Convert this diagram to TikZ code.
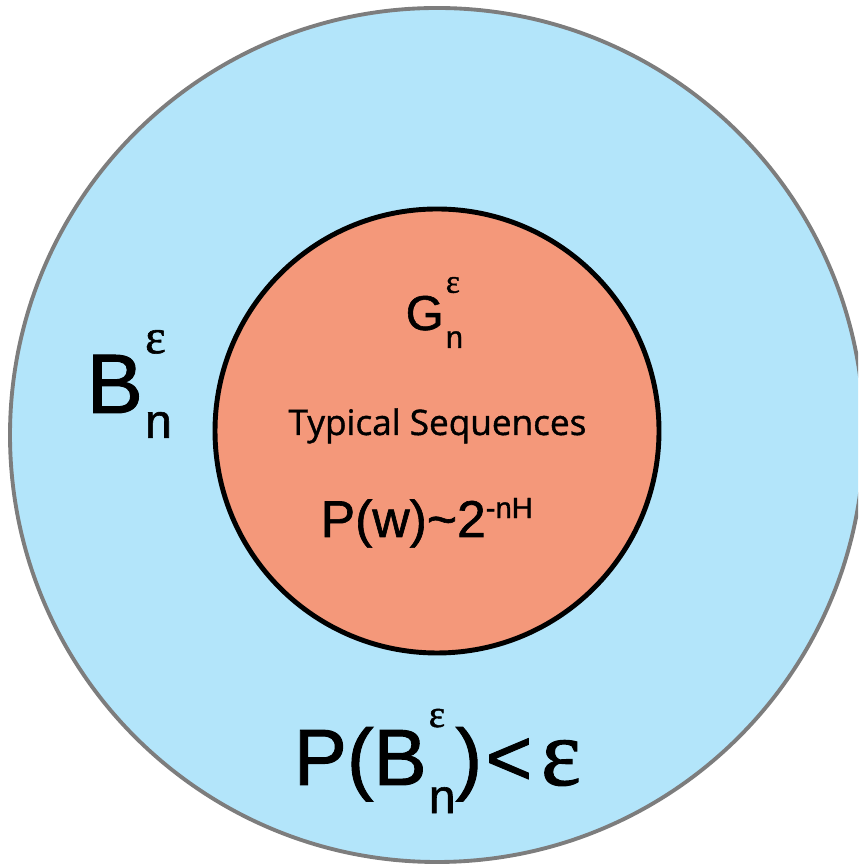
\documentclass[tikz,border=0pt]{standalone}
\usepackage{fontspec}
\setmainfont[FakeBold=1.2]{Liberation Sans}
\newfontfamily\epsfont[FakeBold=1.2]{Liberation Serif}
\newfontfamily\labfont[FakeBold=1.2]{Open Sans}
\usetikzlibrary{positioning}
\definecolor{setblue}{RGB}{179,229,250}
\definecolor{setorange}{RGB}{244,152,122}
\definecolor{rimgray}{RGB}{125,125,125}

%% superscript and subscript stacked on one another
\newcommand{\supsub}[4]{%
  \makebox[0pt][l]{\raisebox{#3}{#1}}\raisebox{-#4}{#2}}
\newcommand{\fs}[1]{\fontsize{#1}{#1}\selectfont}

\begin{document}
\begin{tikzpicture}[
  %% styles
  lbl/.style={inner sep=0pt, anchor=base west, text=black},
]

%% picture frame: 1px = 0.01cm
\useasboundingbox (0,0) rectangle (8.58,8.64);
\clip (0,0) rectangle (8.58,8.64);

%% ------ sets ----------------------------------------------------------
\def\Ox{4.37} \def\Oy{4.29}  % outer centre
\def\Ix{4.37} \def\Iy{4.33}  % inner centre

\fill[setblue] (\Ox,\Oy) circle (4.27);
\draw[rimgray, line width=1.1pt] (\Ox,\Oy) circle (4.27);
\coordinate (outer) at (\Ox,\Oy);

\filldraw[fill=setorange, draw=black, line width=1.4pt]
  (\Ix,\Iy) circle (2.22);
\coordinate (inner) at (\Ix,\Iy);

%% ------ labels --------------------------------------------------------
%% bad set
\node[lbl] (bad) at (0.86,4.51)
  {\fs{24}B\kern0.6pt\supsub{\epsfont\fs{14}ε}{\fs{13.7}n}{17pt}{7.1pt}};

%% good set
\node[lbl] (good) at (4.05,5.34)
  {\fs{13.9}G\kern0.6pt\supsub{\epsfont\fs{9.5}ε}{\fs{8.8}n}{10.6pt}{5.1pt}};

\node[inner sep=0pt, anchor=base] (typ) at (4.375,4.29)
  {\labfont\fs{10}Typical Sequences};

\node[lbl] (prob) at (3.20,3.27)
  {\fs{14.7}P(w)\textasciitilde 2\raisebox{5.4pt}{\fs{8.3}-nH}};

%% bound on the bad set
\node[lbl] (bound) at (2.93,0.79)
  {\fs{22.7}P(B\kern0.6pt\supsub{\epsfont\fs{11}ε}{\fs{13.7}n}{16.5pt}{8pt})\kern1pt<%
   \kern2.5pt{\epsfont\fs{27}ε}};

\end{tikzpicture}
\end{document}
